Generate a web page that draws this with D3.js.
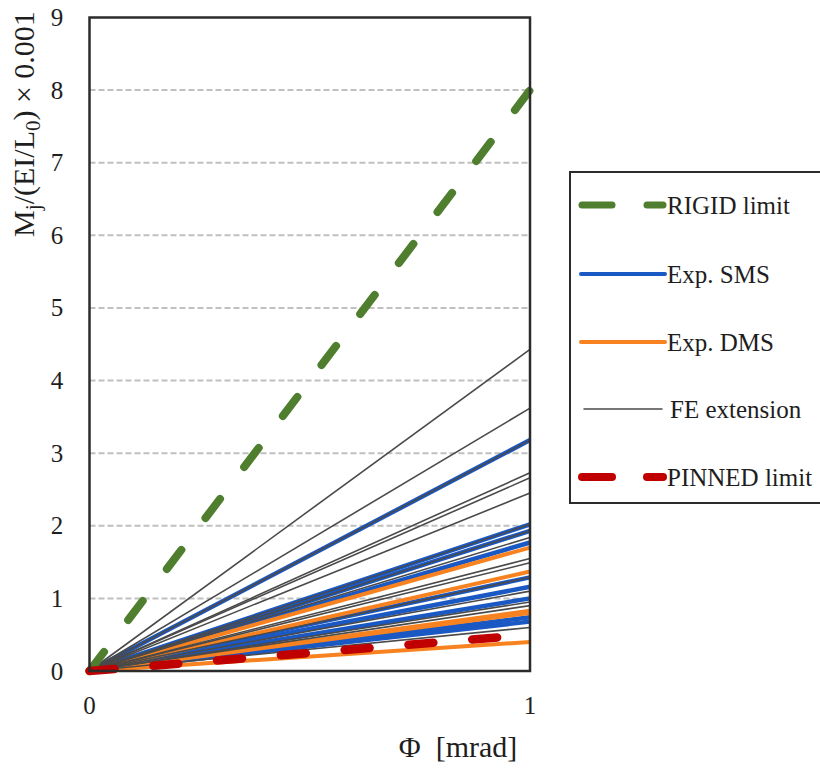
<!DOCTYPE html>
<html>
<head>
<meta charset="utf-8">
<script src="https://cdn.jsdelivr.net/npm/d3@7"></script>
</head>
<body style="margin:0;background:#fff">
<svg id="fig" width="820" height="769"></svg>
<script>
// Joint moment at Φ = 1 mrad for each straight line through the origin
const smsEnd = [3.18, 2.02, 1.93, 1.77, 1.29, 1.16, 1.00, 0.74, 0.68];
const dmsEnd = [1.70, 1.37, 0.83, 0.80, 0.40];
const feEnd  = [4.43, 3.62, 3.18, 2.73, 2.66, 2.45, 2.02, 1.93, 1.84, 1.55, 1.49, 1.29, 1.10, 0.95, 0.90, 0.60];
const rigidEnd  = 8;
const pinnedEnd = 0.5;

const xTicks = [0, 1];
const yTicks = [0, 1, 2, 3, 4, 5, 6, 7, 8, 9];
const legendLabels = ["RIGID limit", "Exp. SMS", "Exp. DMS", "FE extension", "PINNED limit"];

const colors = { rigid: "#4f7f2e", sms: "#1a58c4", dms: "#f7821f", fe: "#4a4a4a", pinned: "#c00000" };
const INK = "#1e1e1e";

const svg = d3.select("#fig");
const x = d3.scaleLinear().domain([0, 1]).range([89.5, 530]);
const y = d3.scaleLinear().domain([0, 9]).range([671, 17.5]);

function serifText(parent, size) {
  return parent.append("text")
    .attr("font-family", "Liberation Serif")
    .style("font-family", '"Liberation Serif"', "important")
    .attr("font-size", size)
    .attr("fill", INK);
}

// horizontal dashed gridlines
svg.append("g").selectAll("line")
  .data(yTicks.filter(v => v > 0 && v < 9))
  .join("line")
  .attr("x1", x(0)).attr("x2", x(1))
  .attr("y1", d => y(d)).attr("y2", d => y(d))
  .attr("stroke", "#c0c0c0").attr("stroke-width", 2)
  .attr("stroke-dasharray", "6,3");

const plot = svg.append("g");
const ray = v => [[0, 0], [1, v]];
const line = d3.line().x(d => x(d[0])).y(d => y(d[1]));

function drawRays(values, color, width) {
  plot.append("g").selectAll("path")
    .data(values)
    .join("path")
    .attr("d", v => line(ray(v)))
    .attr("fill", "none")
    .attr("stroke", color)
    .attr("stroke-width", width)
    .attr("stroke-linecap", "butt");
}

drawRays(smsEnd, colors.sms, 4.5);
drawRays(dmsEnd, colors.dms, 4);
drawRays(feEnd, colors.fe, 1.6);

// limits
plot.append("path")
  .attr("d", line(ray(rigidEnd)))
  .attr("fill", "none").attr("stroke", colors.rigid)
  .attr("stroke-width", 8).attr("stroke-linecap", "round")
  .attr("stroke-dasharray", "24,40");

plot.append("path")
  .attr("d", line(ray(pinnedEnd)))
  .attr("fill", "none").attr("stroke", colors.pinned)
  .attr("stroke-width", 8.5).attr("stroke-linecap", "round")
  .attr("stroke-dasharray", "25,39");

// plot frame
svg.append("rect")
  .attr("x", x(0)).attr("y", y(9))
  .attr("width", x(1) - x(0)).attr("height", y(0) - y(9))
  .attr("fill", "none").attr("stroke", "#2b2b2b").attr("stroke-width", 2.5);

// y tick labels
const yTickG = svg.append("g");
yTicks.forEach(v => {
  serifText(yTickG, 25)
    .attr("x", 57).attr("y", y(v) + 8.5)
    .attr("text-anchor", "middle")
    .text(v);
});

// x tick labels
const xTickG = svg.append("g");
xTicks.forEach(v => {
  serifText(xTickG, 25)
    .attr("x", x(v)).attr("y", 714)
    .attr("text-anchor", "middle")
    .text(v);
});

// x axis title
serifText(svg, 30)
  .attr("x", 458).attr("y", 757)
  .attr("text-anchor", "middle")
  .attr("xml:space", "preserve")
  .text("Φ  [mrad]");

// y axis title
const yt = serifText(svg, 30)
  .attr("transform", "translate(34,124) rotate(-90)")
  .attr("text-anchor", "middle");
yt.append("tspan").text("M");
yt.append("tspan").attr("font-size", 21).attr("dy", 6).text("j");
yt.append("tspan").attr("dy", -6).text("/(EI/L");
yt.append("tspan").attr("font-size", 21).attr("dy", 6).text("0");
yt.append("tspan").attr("dy", -6).text(") × 0.001");

// legend
const lg = svg.append("g");
lg.append("rect")
  .attr("x", 570).attr("y", 172).attr("width", 270).attr("height", 331)
  .attr("fill", "#fff").attr("stroke", "#2b2b2b").attr("stroke-width", 2);

const legendY = [205, 274, 342, 409, 477];
const legendStyle = [
  { color: colors.rigid, width: 7, dashed: true },
  { color: colors.sms, width: 4 },
  { color: colors.dms, width: 4 },
  { color: colors.fe, width: 1.5, inset: 3 },
  { color: colors.pinned, width: 8, dashed: true }
];

legendLabels.forEach((text, i) => {
  const s = legendStyle[i];
  const yy = legendY[i];
  if (s.dashed) {
    [[582, 612], [647, 663]].forEach(([a, b]) => {
      lg.append("line")
        .attr("x1", a).attr("x2", b).attr("y1", yy).attr("y2", yy)
        .attr("stroke", s.color).attr("stroke-width", s.width).attr("stroke-linecap", "round");
    });
  } else {
    const inset = s.inset || 0;
    lg.append("line")
      .attr("x1", 581 + inset).attr("x2", 665 - inset).attr("y1", yy).attr("y2", yy)
      .attr("stroke", s.color).attr("stroke-width", s.width).attr("stroke-linecap", "round");
  }
  serifText(lg, 25)
    .attr("x", i === 3 ? 670 : 667).attr("y", yy + 9)
    .text(text);
});
</script>
</body>
</html>
